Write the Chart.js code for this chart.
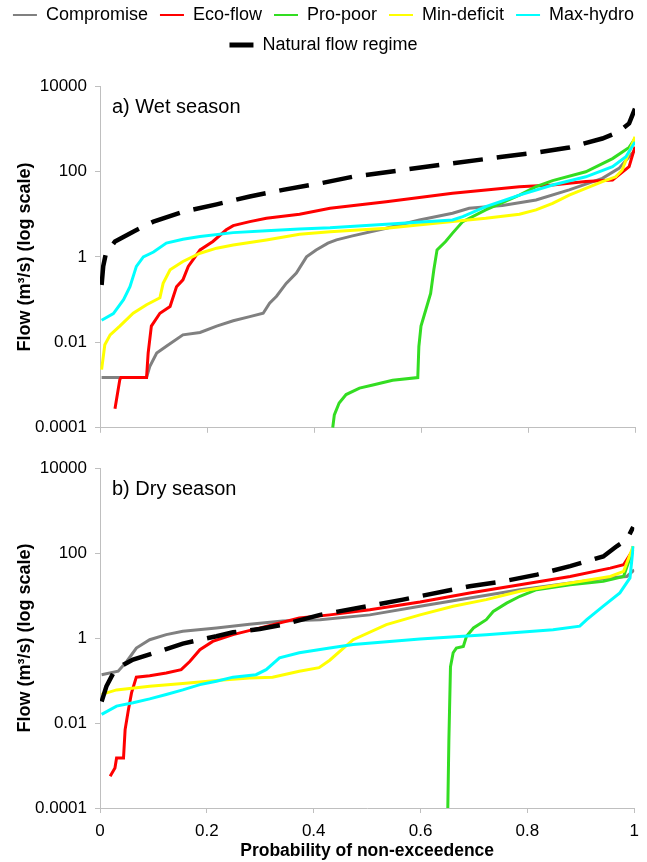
<!DOCTYPE html>
<html>
<head>
<meta charset="utf-8">
<script src="https://cdn.jsdelivr.net/npm/chart.js@4.4.1/dist/chart.umd.min.js"></script>
<style>
  body { margin: 0; background: #fff; }
  #wrap { position: relative; width: 647px; height: 862px; overflow: hidden; }
  #wetChart { position: absolute; left: 0; top: -6px; }
  #dryChart { position: absolute; left: 0; top: 440px; }
</style>
</head>
<body>
<div id="wrap">
  <canvas id="wetChart" width="647" height="452"></canvas>
  <canvas id="dryChart" width="647" height="422"></canvas>
</div>
<script>
const seriesNames = ['Compromise', 'Eco-flow', 'Pro-poor', 'Min-deficit', 'Max-hydro', 'Natural flow regime'];
const panelTitles = ['a) Wet season', 'b) Dry season'];
const xAxisTitle = 'Probability of non-exceedence';
const yAxisTitle = 'Flow (m³/s) (log scale)';
const xTickValues = [0, 0.2, 0.4, 0.6, 0.8, 1];
const xTickLabels = ['0', '0.2', '0.4', '0.6', '0.8', '1'];
const yTickValues = [0.0001, 0.01, 1, 100, 10000];
const yTickLabels = ['0.0001', '0.01', '1', '100', '10000'];

// wet season: probability of non-exceedence (X) and flow in m3/s (Y)
const wetCompromiseX = [0.003, 0.087, 0.093, 0.106, 0.124, 0.155, 0.187, 0.218, 0.249, 0.28, 0.305, 0.317, 0.33, 0.348, 0.367, 0.386, 0.404, 0.426, 0.442, 0.472, 0.535, 0.597, 0.659, 0.69, 0.752, 0.815, 0.877, 0.939, 0.97, 1.0];
const wetCompromiseY = [0.0015, 0.0015, 0.0027, 0.0056, 0.0081, 0.015, 0.017, 0.024, 0.032, 0.04, 0.048, 0.083, 0.12, 0.24, 0.42, 1.0, 1.45, 2.1, 2.5, 3.1, 4.7, 7.3, 10.5, 13.7, 16, 21.5, 37, 69, 118, 316];
const wetEcoX = [0.028, 0.037, 0.039, 0.087, 0.09, 0.096, 0.112, 0.131, 0.143, 0.155, 0.165, 0.187, 0.211, 0.236, 0.249, 0.28, 0.311, 0.373, 0.43, 0.535, 0.659, 0.784, 0.846, 0.908, 0.958, 0.97, 0.989, 1.0];
const wetEcoY = [0.00028, 0.00134, 0.0015, 0.0015, 0.0056, 0.024, 0.048, 0.069, 0.2, 0.29, 0.6, 1.46, 2.3, 4.3, 5.4, 6.7, 8, 10, 13.7, 19.6, 31, 44, 48, 58, 63, 83, 129, 380];
const wetPoorX = [0.435, 0.438, 0.447, 0.46, 0.485, 0.51, 0.547, 0.594, 0.596, 0.6, 0.609, 0.618, 0.624, 0.63, 0.646, 0.659, 0.678, 0.721, 0.784, 0.815, 0.846, 0.908, 0.958, 0.989, 1.0];
const wetPoorY = [0.0001, 0.0002, 0.00038, 0.0006, 0.00085, 0.001, 0.0013, 0.0015, 0.008, 0.024, 0.058, 0.14, 0.5, 1.46, 2.3, 3.6, 6.7, 12.6, 28, 44, 61, 98, 200, 365, 590];
const wetMinDefX = [0.003, 0.009, 0.019, 0.037, 0.062, 0.087, 0.112, 0.118, 0.131, 0.155, 0.187, 0.218, 0.249, 0.311, 0.373, 0.43, 0.535, 0.659, 0.721, 0.784, 0.815, 0.846, 0.877, 0.908, 0.939, 0.964, 0.976, 1.0];
const wetMinDefY = [0.0023, 0.0088, 0.015, 0.024, 0.048, 0.076, 0.11, 0.24, 0.5, 0.78, 1.22, 1.6, 1.9, 2.5, 3.4, 3.9, 4.7, 6.7, 8, 10, 12.6, 18, 28, 40, 58, 75, 108, 650];
const wetMaxHydroX = [0.003, 0.025, 0.044, 0.056, 0.068, 0.081, 0.1, 0.124, 0.155, 0.187, 0.249, 0.311, 0.373, 0.43, 0.535, 0.659, 0.678, 0.721, 0.784, 0.846, 0.908, 0.958, 0.983, 1.0];
const wetMaxHydroY = [0.033, 0.047, 0.1, 0.2, 0.6, 1.0, 1.3, 2.1, 2.6, 3.0, 3.7, 4.1, 4.5, 4.8, 5.8, 7.3, 8.8, 15, 28, 48, 75, 129, 220, 490];
const wetNaturalX = [0.003, 0.006, 0.011, 0.028, 0.062, 0.1, 0.155, 0.218, 0.28, 0.342, 0.392, 0.41, 0.472, 0.565, 0.659, 0.752, 0.815, 0.877, 0.939, 0.97, 0.989, 1.0];
const wetNaturalY = [0.22, 0.6, 1.2, 2.3, 3.9, 6.7, 11.4, 17, 26, 37, 48, 52, 75, 108, 155, 220, 275, 365, 590, 850, 1330, 2950];

// dry season
const dryCompromiseX = [0.003, 0.034, 0.05, 0.068, 0.093, 0.124, 0.155, 0.218, 0.28, 0.342, 0.412, 0.505, 0.599, 0.692, 0.786, 0.88, 0.955, 0.986, 1.0];
const dryCompromiseY = [0.137, 0.165, 0.28, 0.58, 0.91, 1.2, 1.44, 1.72, 2.1, 2.5, 2.7, 3.5, 5.6, 8.7, 13.7, 19.6, 26, 28, 40];
const dryEcoX = [0.019, 0.028, 0.031, 0.044, 0.047, 0.053, 0.059, 0.068, 0.093, 0.124, 0.152, 0.168, 0.187, 0.211, 0.249, 0.311, 0.373, 0.43, 0.505, 0.599, 0.692, 0.786, 0.88, 0.955, 0.98, 0.998];
const dryEcoY = [0.00056, 0.00087, 0.0015, 0.0015, 0.007, 0.02, 0.051, 0.12, 0.13, 0.15, 0.18, 0.28, 0.53, 0.83, 1.2, 1.88, 2.95, 3.5, 4.6, 7, 11.5, 18, 28, 44, 53, 120];
const dryPoorX = [0.651, 0.653, 0.656, 0.661, 0.667, 0.68, 0.686, 0.699, 0.723, 0.736, 0.761, 0.786, 0.817, 0.88, 0.942, 0.98, 0.995, 0.998];
const dryPoorY = [0.0001, 0.004, 0.21, 0.45, 0.58, 0.63, 1.1, 1.72, 2.7, 4.2, 6.6, 9.6, 13.7, 18, 21.5, 28, 100, 144];
const dryMinDefX = [0.003, 0.031, 0.093, 0.155, 0.218, 0.28, 0.323, 0.373, 0.41, 0.43, 0.46, 0.474, 0.536, 0.599, 0.661, 0.723, 0.786, 0.88, 0.955, 0.98, 0.998];
const dryMinDefY = [0.047, 0.06, 0.073, 0.085, 0.1, 0.115, 0.12, 0.165, 0.2, 0.3, 0.64, 0.91, 2.06, 3.5, 5.6, 8, 12.6, 19.6, 28, 37, 144];
const dryMaxHydroX = [0.003, 0.031, 0.062, 0.093, 0.124, 0.155, 0.187, 0.218, 0.249, 0.292, 0.311, 0.336, 0.373, 0.43, 0.474, 0.599, 0.723, 0.848, 0.898, 0.911, 0.942, 0.973, 0.992, 0.998];
const dryMaxHydroY = [0.016, 0.025, 0.03, 0.037, 0.047, 0.06, 0.08, 0.096, 0.12, 0.137, 0.18, 0.34, 0.45, 0.58, 0.7, 0.95, 1.2, 1.57, 1.9, 2.7, 5.6, 11.5, 26, 144];
const dryNaturalX = [0.003, 0.012, 0.025, 0.044, 0.062, 0.093, 0.124, 0.155, 0.187, 0.218, 0.249, 0.299, 0.342, 0.412, 0.567, 0.692, 0.754, 0.818, 0.88, 0.942, 0.967, 0.986, 0.998];
const dryNaturalY = [0.032, 0.073, 0.15, 0.235, 0.31, 0.41, 0.55, 0.74, 0.91, 1.1, 1.36, 1.63, 2.06, 3.5, 8, 16.5, 21.5, 31, 49, 83, 144, 205, 410];

const FONT = '"Liberation Sans", Arial, sans-serif';
const lineColors = ['#808080', '#ff0000', '#33dd22', '#ffff00', '#00ffff', '#000000'];
const axisGray = '#bfbfbf';

function toPoints(xs, ys) {
    return xs.map((x, i) => ({ x: x, y: ys[i] }));
}

function makeDatasets(seriesXY) {
    return seriesXY.map((s, i) => {
        const natural = i === seriesXY.length - 1;
        return {
            label: seriesNames[i],
            data: toPoints(s[0], s[1]),
            borderColor: lineColors[i],
            backgroundColor: lineColors[i],
            borderWidth: natural ? 4.5 : 3,
            borderDash: natural ? [30, 14] : [],
            pointRadius: 0,
            tension: 0,
            order: seriesXY.length - 1 - i,
            xAxisID: 'x',
            yAxisID: 'y'
        };
    });
}

const panelLabel = {
    id: 'panelLabel',
    afterDraw(chart, args, opts) {
        const { ctx, chartArea } = chart;
        ctx.save();
        ctx.font = '20px ' + FONT;
        ctx.fillStyle = '#000';
        ctx.textBaseline = 'middle';
        ctx.fillText(opts.text, chartArea.left + 12, chartArea.top + 21);
        ctx.restore();
    }
};

function buildScales(isWet) {
    const scales = {
        x: {
            type: 'linear',
            min: 0,
            max: 1,
            afterBuildTicks: s => { s.ticks = xTickValues.map(v => ({ value: v })); },
            afterFit: s => { s.height = isWet ? 12 : 54; },
            ticks: {
                display: !isWet,
                autoSkip: false,
                maxRotation: 0,
                padding: 8,
                color: '#000',
                font: { size: 17, family: FONT },
                callback: (v, i) => xTickLabels[i]
            },
            grid: { drawOnChartArea: false, drawTicks: true, tickLength: 5, color: axisGray },
            border: { color: axisGray },
            title: {
                display: !isWet,
                text: xAxisTitle,
                color: '#000',
                font: { size: 17.5, weight: 'bold', family: FONT },
                padding: { top: 0, bottom: 0 }
            }
        },
        y: {
            type: 'logarithmic',
            min: 0.0001,
            max: 10000,
            afterBuildTicks: s => { s.ticks = yTickValues.map(v => ({ value: v })); },
            afterFit: s => { s.width = 100; },
            ticks: {
                autoSkip: false,
                padding: 8,
                color: '#000',
                font: { size: 17, family: FONT },
                callback: (v, i) => yTickLabels[i]
            },
            grid: { drawOnChartArea: false, drawTicks: true, tickLength: 5, color: axisGray },
            border: { color: axisGray },
            title: {
                display: true,
                text: yAxisTitle,
                color: '#000',
                font: { size: 18, weight: 'bold', family: FONT },
                padding: { top: 14, bottom: 0 }
            }
        }
    };
    if (isWet) {
        // empty spacer axes so the plot area lines up with the dry panel
        scales.xTop = {
            type: 'linear', position: 'top', display: true,
            grid: { display: false }, border: { display: false }, ticks: { display: false },
            afterFit: s => { s.height = 22; }
        };
        scales.yRight = {
            type: 'linear', position: 'right', display: true,
            grid: { display: false }, border: { display: false }, ticks: { display: false },
            afterFit: s => { s.width = 12; }
        };
    }
    return scales;
}

function buildChart(canvasId, isWet, title, seriesXY) {
    return new Chart(document.getElementById(canvasId), {
        type: 'line',
        data: { datasets: makeDatasets(seriesXY) },
        plugins: [panelLabel],
        options: {
            responsive: false,
            animation: false,
            devicePixelRatio: 1,
            layout: { padding: isWet ? 0 : { top: 28, right: 12, bottom: 0, left: 0 } },
            plugins: {
                tooltip: { enabled: false },
                panelLabel: { text: title },
                legend: {
                    display: isWet,
                    position: 'top',
                    labels: {
                        usePointStyle: true,
                        pointStyle: 'line',
                        pointStyleWidth: 24,
                        padding: 12,
                        color: '#000',
                        font: { size: 18, family: FONT },
                        sort: (a, b) => a.datasetIndex - b.datasetIndex,
                        generateLabels: chart => Chart.defaults.plugins.legend.labels.generateLabels(chart)
                            .map(item => Object.assign(item, { lineDash: [], lineWidth: item.lineWidth > 3 ? 5 : 2 }))
                    }
                }
            },
            scales: buildScales(isWet)
        }
    });
}

buildChart('wetChart', true, panelTitles[0], [
    [wetCompromiseX, wetCompromiseY],
    [wetEcoX, wetEcoY],
    [wetPoorX, wetPoorY],
    [wetMinDefX, wetMinDefY],
    [wetMaxHydroX, wetMaxHydroY],
    [wetNaturalX, wetNaturalY]
]);

buildChart('dryChart', false, panelTitles[1], [
    [dryCompromiseX, dryCompromiseY],
    [dryEcoX, dryEcoY],
    [dryPoorX, dryPoorY],
    [dryMinDefX, dryMinDefY],
    [dryMaxHydroX, dryMaxHydroY],
    [dryNaturalX, dryNaturalY]
]);
</script>
</body>
</html>
